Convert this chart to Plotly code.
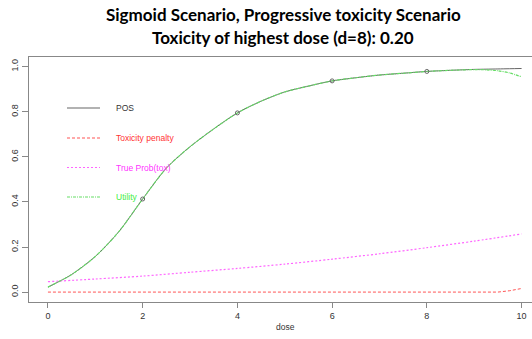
import plotly.graph_objects as go

# ---- data ----
dose = [0, 0.5, 1, 1.5, 2, 2.5, 3, 3.5, 4, 4.5, 5, 5.5, 6, 6.5, 7, 7.5, 8, 8.5, 9, 9.25, 9.5, 9.75, 10]
pos = [0.022, 0.078, 0.158, 0.269, 0.413, 0.55, 0.645, 0.724, 0.795, 0.847, 0.888, 0.914, 0.937,
       0.951, 0.963, 0.971, 0.979, 0.984, 0.988, 0.989, 0.990, 0.991, 0.992]
utility = [0.022, 0.078, 0.158, 0.269, 0.413, 0.55, 0.645, 0.724, 0.795, 0.847, 0.888, 0.914, 0.937,
           0.951, 0.963, 0.971, 0.979, 0.984, 0.987, 0.986, 0.982, 0.972, 0.955]
penalty = [0, 0, 0, 0, 0, 0, 0, 0, 0, 0, 0, 0, 0, 0, 0, 0, 0, 0, 0, 0, 0.0, 0.006, 0.016]
tox_dose = [0, 1, 2, 3, 4, 5, 6, 7, 8, 9, 10]
true_tox = [0.046, 0.058, 0.071, 0.088, 0.105, 0.124, 0.146, 0.170, 0.197, 0.226, 0.258]
marker_dose = [2, 4, 6, 8]
marker_pos = [0.413, 0.795, 0.937, 0.979]

x_ticks = [0, 2, 4, 6, 8, 10]
y_ticks = [0.0, 0.2, 0.4, 0.6, 0.8, 1.0]
y_tick_labels = ["0.0", "0.2", "0.4", "0.6", "0.8", "1.0"]

legend_names = ["POS", "Toxicity penalty", "True Prob(tox)", "Utility"]
legend_colors = ["#333333", "#ff3333", "#ff33ff", "#44ee44"]
line_colors = ["#666666", "#ff5555", "#ff66ff", "#66dd66"]
legend_dash = ["solid", "3px,2px", "2px,2px", "3px,1px,1px,1px"]

W, H = 532, 339
fig = go.Figure()

fig.add_trace(go.Scatter(x=dose, y=pos, mode="lines",
                         line=dict(color=line_colors[0], width=1, shape="spline", smoothing=0.8),
                         showlegend=False))
fig.add_trace(go.Scatter(x=dose, y=penalty, mode="lines",
                         line=dict(color=line_colors[1], width=1, dash=legend_dash[1]), showlegend=False))
fig.add_trace(go.Scatter(x=tox_dose, y=true_tox, mode="lines",
                         line=dict(color=line_colors[2], width=1.2, dash=legend_dash[2],
                                   shape="spline", smoothing=0.8), showlegend=False))
fig.add_trace(go.Scatter(x=dose, y=utility, mode="lines",
                         line=dict(color=line_colors[3], width=1.2, dash=legend_dash[3],
                                   shape="spline", smoothing=0.8), showlegend=False))
fig.add_trace(go.Scatter(x=marker_dose, y=marker_pos, mode="markers",
                         marker=dict(symbol="circle-open", size=4, color="#666666",
                                     line=dict(width=1, color="#666666")),
                         showlegend=False))

# manual legend (paper coordinates of plot area)
L, R, T, B = 29, 532, 57, 302
pw, ph = R - L, B - T
def px(xp):
    return (xp - L) / pw
def py(yp):
    return (B - yp) / ph

shapes = []
annotations = []
leg_y = [108, 138, 167.5, 197]
for name, col, lc, dash, yy in zip(legend_names, legend_colors, line_colors, legend_dash, leg_y):
    shapes.append(dict(type="line", xref="paper", yref="paper",
                       x0=px(67), x1=px(100), y0=py(yy), y1=py(yy),
                       line=dict(color=lc, width=1.2, dash=dash)))
    annotations.append(dict(xref="paper", yref="paper", x=px(114), y=py(yy),
                            xanchor="left", yanchor="middle", showarrow=False,
                            text=name, font=dict(family="Liberation Sans, Arial", size=8.5,
                                                 color=col)))

# title
annotations.append(dict(xref="paper", yref="paper", x=px(283), y=py(15),
                        xanchor="center", yanchor="middle", showarrow=False,
                        text="<b>Sigmoid Scenario, Progressive toxicity Scenario</b>",
                        font=dict(family="Lato", size=17, color="#000000")))
annotations.append(dict(xref="paper", yref="paper", x=px(283), y=py(38),
                        xanchor="center", yanchor="middle", showarrow=False,
                        text="<b>Toxicity of highest dose (d=8): 0.20</b>",
                        font=dict(family="Lato", size=17, color="#000000")))
# x axis title
annotations.append(dict(xref="paper", yref="paper", x=px(285), y=py(327),
                        xanchor="center", yanchor="middle", showarrow=False,
                        text="dose", font=dict(family="Liberation Sans, Arial", size=8.5, color="#333333")))

fig.update_layout(
    width=W, height=H,
    margin=dict(l=L, r=W - R, t=T, b=H - B, autoexpand=False),
    paper_bgcolor="white", plot_bgcolor="white",
    shapes=shapes, annotations=annotations,
    showlegend=False,
)
fig.update_xaxes(range=[-0.4, 10.22], tickvals=x_ticks, ticktext=[str(v) for v in x_ticks],
                 showgrid=False, zeroline=False, showline=True, mirror=True, automargin=False,
                 linecolor="#888888", linewidth=1, ticks="outside", ticklen=5,
                 tickcolor="#888888", tickfont=dict(family="Liberation Sans, Arial", size=9, color="#333333"))
fig.update_yaxes(range=[-0.044, 1.043], tickvals=y_ticks, ticktext=y_tick_labels, tickangle=-90,
                 showgrid=False, zeroline=False, showline=True, automargin=False,
                 linecolor="#888888", linewidth=1, ticks="outside", ticklen=6,
                 tickcolor="#888888", tickfont=dict(family="Liberation Sans, Arial", size=9, color="#333333"))

fig.write_html("out.html", config={"displayModeBar": False},
               post_script="document.body.style.margin='0';document.body.style.overflow='hidden';")
